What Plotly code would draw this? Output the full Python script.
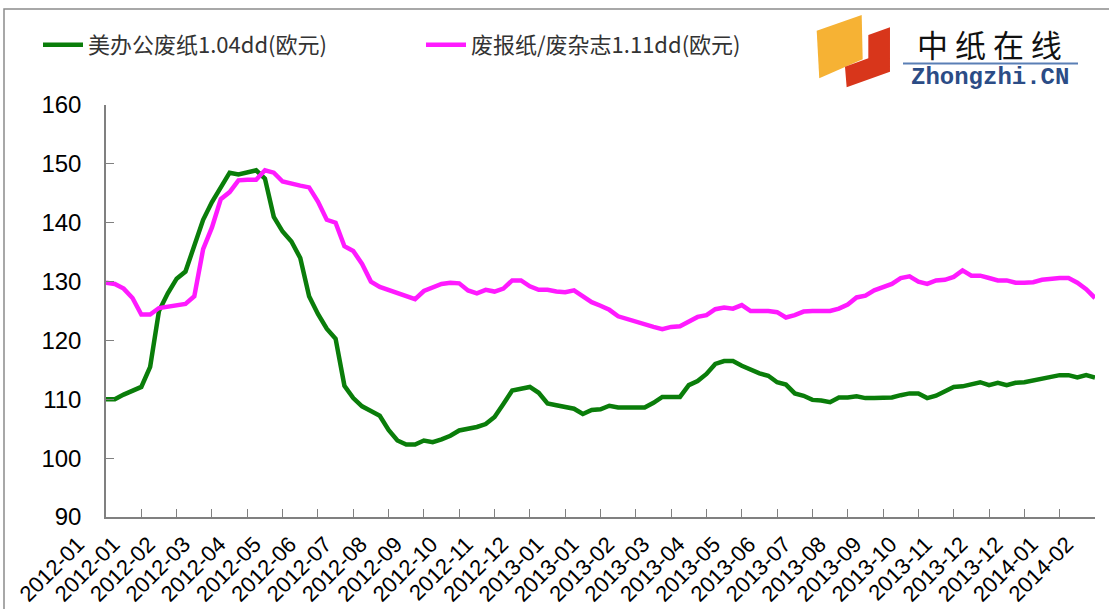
import plotly.graph_objects as go

# ---- data ----
tick_labels = [
    "2012-01", "2012-01", "2012-02", "2012-03", "2012-04", "2012-05", "2012-06",
    "2012-07", "2012-08", "2012-09", "2012-10", "2012-11", "2012-12", "2013-01",
    "2013-01", "2013-02", "2013-03", "2013-04", "2013-05", "2013-06", "2013-07",
    "2013-08", "2013-09", "2013-10", "2013-11", "2013-12", "2013-12", "2014-01",
    "2014-02",
]
label_step = 4

green_name = "美办公废纸1.04dd(欧元)"
green = [
    110.0, 110.0, 110.8, 111.4, 112.1, 115.5, 125.0, 128.0, 130.5, 131.7,
    136.0, 140.5, 143.5, 146.0, 148.5, 148.2, 148.5, 148.9, 147.5, 141.0,
    138.5, 136.8, 134.0, 127.5, 124.5, 122.0, 120.3, 112.3, 110.2, 108.8,
    108.0, 107.2, 104.8, 103.0, 102.3, 102.3, 103.0, 102.7, 103.2, 103.8,
    104.7, 105.0, 105.3, 105.8, 107.0, 109.2, 111.5, 111.8, 112.1, 111.1,
    109.3, 109.0, 108.7, 108.4, 107.5, 108.2, 108.3, 108.9, 108.6, 108.6,
    108.6, 108.6, 109.4, 110.4, 110.4, 110.4, 112.4, 113.1, 114.3, 116.0,
    116.5, 116.5, 115.7, 115.0, 114.4, 114.0, 112.9, 112.5, 111.0, 110.6,
    109.9, 109.8, 109.5, 110.3, 110.3, 110.5, 110.2, 110.2, 110.2, 110.3,
    110.7, 111.0, 111.0, 110.2, 110.6, 111.4, 112.1, 112.2, 112.6, 112.9,
    112.4, 112.8, 112.4, 112.8, 112.9, 113.2, 113.5, 113.8, 114.1, 114.1,
    113.7, 114.1, 113.7,
]

pink_name = "废报纸/废杂志1.11dd(欧元)"
pink = [
    129.8, 129.6, 128.8, 127.2, 124.4, 124.4, 125.5, 125.7, 125.9, 126.2,
    127.5, 135.5, 139.2, 144.0, 145.2, 147.2, 147.3, 147.3, 148.9, 148.5,
    147.0, 146.6, 146.3, 146.0, 143.6, 140.5, 140.0, 136.0, 135.2, 133.0,
    130.0, 129.1, 128.6, 128.0, 127.6, 127.0, 128.4, 128.9, 129.6, 129.8,
    129.7, 128.5, 128.0, 128.6, 128.3, 128.8, 130.2, 130.2, 129.2, 128.6,
    128.6, 128.3, 128.2, 128.5, 127.6, 126.5, 125.9, 125.2, 124.1, 123.6,
    123.1, 122.6, 122.3, 121.9, 122.3, 122.4, 123.1, 124.0, 124.3, 125.3,
    125.6, 125.4, 126.0, 125.0, 125.0, 125.0, 124.8, 123.9, 124.3, 124.9,
    125.0, 125.0, 125.0, 125.4, 126.1, 127.3, 127.6, 128.5, 129.0, 129.6,
    130.6, 130.9, 130.0, 129.6, 130.2, 130.3, 130.8, 131.9, 131.0, 131.0,
    130.6, 130.2, 130.2, 129.8, 129.8, 129.9, 130.3, 130.5, 130.6, 130.6,
    129.8, 128.7, 127.2,
]

weeks = list(range(len(green)))
tick_positions = [i * label_step for i in range(len(tick_labels))]

# ---- layout geometry (pixels) ----
W, H = 1109, 609
L, R, T, B = 106, 1095, 105, 517


def px(x):
    return (x - L) / (R - L)


def py(y):
    return (B - y) / (B - T)


fig = go.Figure()
fig.add_trace(go.Scatter(x=weeks, y=green, name=green_name, mode="lines",
                         line=dict(color="#0A7D0A", width=4.5)))
fig.add_trace(go.Scatter(x=weeks, y=pink, name=pink_name, mode="lines",
                         line=dict(color="#FF1AFF", width=4.5)))

shapes = []
# outer chart border (left and top edges visible)
shapes.append(dict(type="rect", xref="paper", yref="paper",
                   x0=px(4), x1=px(1130), y0=py(640), y1=py(9),
                   line=dict(color="#8C8C8C", width=1.5), layer="below"))
# logo icon
yellow = [(816.7, 30.7), (861.7, 15), (862.7, 59.3), (819.3, 78.3)]
red = [(845, 66.7), (868.3, 58.3), (868.3, 35), (890, 27.3), (890, 71.7), (846.7, 87.3)]


def path(pts):
    return "M " + " L ".join(f"{px(a):.4f},{py(b):.4f}" for a, b in pts) + " Z"


shapes.append(dict(type="path", xref="paper", yref="paper", path=path(yellow),
                   fillcolor="#F6B234", line=dict(width=0)))
shapes.append(dict(type="path", xref="paper", yref="paper", path=path(red),
                   fillcolor="#D8361B", line=dict(width=0)))
# blue underline in logo
shapes.append(dict(type="line", xref="paper", yref="paper",
                   x0=px(903), x1=px(1078), y0=py(63.5), y1=py(63.5),
                   line=dict(color="#5A7FB5", width=2)))

annotations = [
    dict(text="中 纸 在 线", xref="paper", yref="paper", x=px(989), y=py(43),
         xanchor="center", yanchor="middle", showarrow=False,
         font=dict(family="Noto Sans CJK SC", size=31, color="#111111")),
    dict(text="<b>Zhongzhi.CN</b>", xref="paper", yref="paper", x=px(990), y=py(78),
         xanchor="center", yanchor="middle", showarrow=False,
         font=dict(family="Liberation Mono", size=24, color="#2B4C86")),
]

fig.update_layout(
    width=W, height=H,
    margin=dict(l=L, r=W - R, t=T, b=H - B, pad=0),
    paper_bgcolor="white", plot_bgcolor="white",
    showlegend=True,
    legend=dict(orientation="h", x=px(38), y=py(45), xanchor="left", yanchor="middle",
                font=dict(family="Noto Sans CJK SC", size=22, color="#333333"),
                entrywidth=328, entrywidthmode="pixels",
                itemwidth=40, bgcolor="rgba(0,0,0,0)"),
    shapes=shapes,
    annotations=annotations,
    xaxis=dict(range=[0, len(weeks) - 1], tickmode="array",
               tickvals=tick_positions, ticktext=tick_labels,
               tickangle=-45, ticks="inside", ticklen=8, tickcolor="#808080",
               showline=True, linecolor="#808080", linewidth=1.5,
               showgrid=False, zeroline=False, ticklabelshift=-28,
               ticklabelstandoff=4, automargin=False,
               tickfont=dict(family="Liberation Sans", size=22, color="#000000")),
    yaxis=dict(range=[90, 160], tickmode="linear", tick0=90, dtick=10,
               ticks="inside", ticklen=8, tickcolor="#808080",
               showline=True, linecolor="#808080", linewidth=1.5,
               showgrid=False, zeroline=False, ticklabelstandoff=18,
               automargin=False,
               tickfont=dict(family="Liberation Sans", size=24, color="#000000")),
)

fig.write_html("out.html", config={"displayModeBar": False},
               post_script="document.body.style.margin='0px';")
